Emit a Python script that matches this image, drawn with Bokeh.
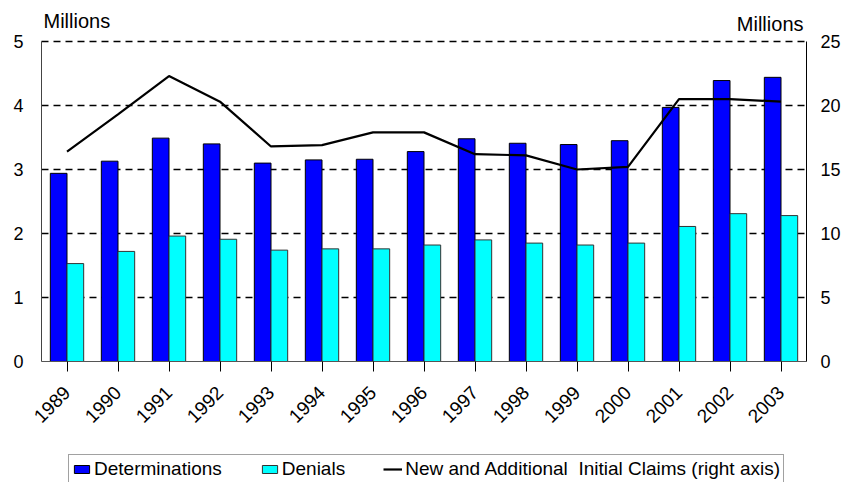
from bokeh.plotting import figure
from bokeh.models import (ColumnDataSource, Range1d, LinearAxis, FixedTicker, Legend,
                          LegendItem, Label)
from bokeh.transform import dodge
from bokeh.embed import file_html
from bokeh.resources import INLINE

years = ["1989", "1990", "1991", "1992", "1993", "1994", "1995", "1996",
         "1997", "1998", "1999", "2000", "2001", "2002", "2003"]
determinations = [2.94, 3.13, 3.49, 3.40, 3.10, 3.15, 3.16, 3.28,
                  3.48, 3.41, 3.39, 3.45, 3.97, 4.39, 4.44]
denials = [1.53, 1.72, 1.96, 1.91, 1.74, 1.76, 1.76, 1.82,
           1.90, 1.85, 1.82, 1.85, 2.11, 2.31, 2.28]
claims = [16.4, 19.3, 22.3, 20.3, 16.8, 16.9, 17.9, 17.9,
          16.2, 16.1, 15.0, 15.2, 20.5, 20.5, 20.3]
left_ticks = [0, 1, 2, 3, 4, 5]
right_ticks = [0, 5, 10, 15, 20, 25]

FONT = "Liberation Sans"
W, H = 851, 482
LEFT, RIGHT = 41, 806        # pixel columns of the plot area edges
TOP, BOT = 41, 361           # pixel rows of y=5 and y=0
n = len(years)
PXX = (RIGHT - LEFT) / n
PXY = (BOT - TOP) / 5.0
x0, x1 = -0.5, n - 0.5
idx = list(range(n))
src = ColumnDataSource(dict(x=idx, det=determinations, den=denials, cl=claims))

ymax = 5 + TOP / PXY
ymin = -(H - BOT) / PXY
p = figure(width=W, height=H, output_backend="svg", toolbar_location=None,
           x_range=Range1d(x0 - LEFT / PXX, x1 + (W - RIGHT) / PXX),
           y_range=Range1d(ymin, ymax),
           min_border_left=0, min_border_top=0, min_border_right=0, min_border_bottom=0)
p.extra_y_ranges = {"right": Range1d(ymin * 5, ymax * 5)}
p.outline_line_color = None
p.background_fill_color = "white"
p.border_fill_color = "white"

# dashed horizontal gridlines spanning the plot area only
gl = [t for t in left_ticks if t > 0]
p.segment(x0=[x0] * len(gl), x1=[x1] * len(gl), y0=gl, y1=gl,
          line_color="black", line_dash="7 5", line_width=1.5)

bw = 0.327
r1 = p.vbar(x=dodge("x", -bw / 2, range=p.x_range), top="det", width=bw, source=src,
            fill_color="#0000FF", line_color="black", line_width=1)
r2 = p.vbar(x=dodge("x", bw / 2, range=p.x_range), top="den", width=bw, source=src,
            fill_color="#00FFFF", line_color="#333333", line_width=1)
r3 = p.line(x="x", y="cl", source=src, y_range_name="right", line_color="black",
            line_width=2.2)

# axes
xa = p.xaxis[0]
xa.fixed_location = 0
xa.bounds = (x0, x1)
xa.ticker = FixedTicker(ticks=idx)
xa.major_label_overrides = {i: y for i, y in zip(idx, years)}
xa.major_label_orientation = 0.785398
xa.major_tick_out = 10
xa.major_tick_in = 0
xa.minor_tick_out = 0
xa.major_label_standoff = 18
xa.axis_line_color = "#555555"
xa.major_tick_line_color = "black"
xa.major_label_text_font = FONT
xa.major_label_text_font_size = "19px"
xa.major_label_text_color = "black"

ya = p.yaxis[0]
ya.fixed_location = x0
ya.ticker = FixedTicker(ticks=left_ticks)
ya.bounds = (0, 5)
ya.major_tick_out = 0
ya.major_tick_in = 0
ya.minor_tick_out = 0
ya.minor_tick_in = 0
ya.axis_line_color = "#444444"
ya.major_label_standoff = 18
ya.major_label_text_font = FONT
ya.major_label_text_font_size = "18px"
ya.major_label_text_color = "black"

ra = LinearAxis(y_range_name="right", ticker=FixedTicker(ticks=right_ticks), bounds=(0, 25))
ra.fixed_location = x1
ra.major_tick_out = 0
ra.major_tick_in = 0
ra.minor_tick_out = 0
ra.minor_tick_in = 0
ra.axis_line_color = "black"
ra.major_label_standoff = 14
ra.major_label_text_font = FONT
ra.major_label_text_font_size = "18px"
ra.major_label_text_color = "black"
p.add_layout(ra, "right")

p.xgrid.grid_line_color = None
p.ygrid.grid_line_color = None

p.add_layout(Label(x=x0, y=5, x_offset=2, y_offset=21, text="Millions",
                   text_font=FONT, text_font_size="20px", text_color="black",
                   text_baseline="alphabetic", text_align="left"))
p.add_layout(Label(x=x1, y=5, x_offset=-3, y_offset=18, text="Millions",
                   text_font=FONT, text_font_size="20px", text_color="black",
                   text_baseline="alphabetic", text_align="right"))

legend = Legend(items=[
    LegendItem(label="Determinations", renderers=[r1]),
    LegendItem(label="Denials", renderers=[r2]),
    LegendItem(label="New and Additional  Initial Claims (right axis)", renderers=[r3]),
], orientation="horizontal", location=(68, -2))
legend.label_text_font = FONT
legend.label_text_font_size = "19px"
legend.label_text_color = "black"
legend.glyph_width = 19
legend.glyph_height = 10
legend.label_height = 20
legend.label_standoff = 3
legend.spacing = 38
legend.padding = 3
legend.margin = 0
legend.border_line_color = "#444444"
legend.border_line_width = 1.5
legend.background_fill_color = "white"
legend.background_fill_alpha = 1
p.add_layout(legend, "center")

open("out.html", "w").write(file_html(p, INLINE))
